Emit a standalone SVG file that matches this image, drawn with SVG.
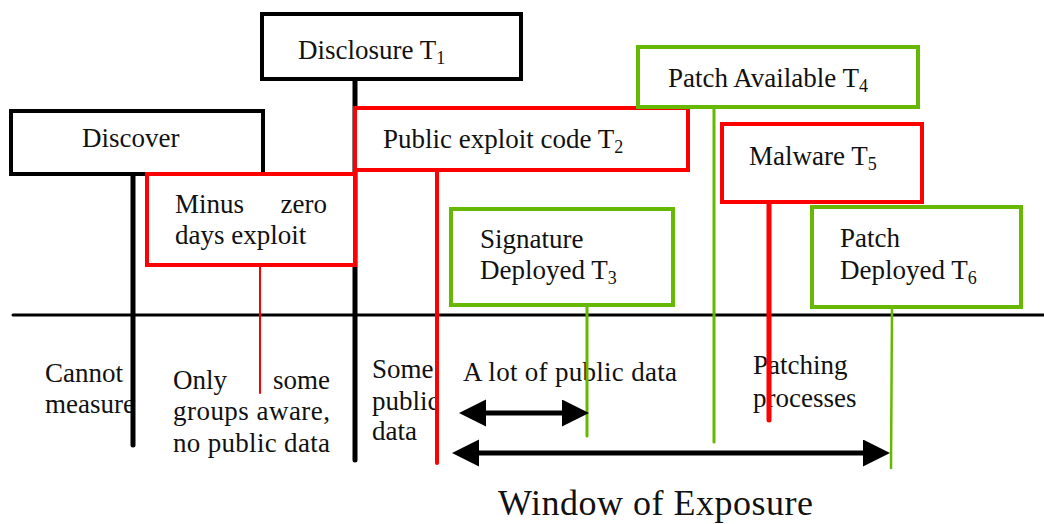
<svg xmlns="http://www.w3.org/2000/svg" width="1044" height="524" viewBox="0 0 1044 524">
<style>
text{font-family:'Liberation Serif','DejaVu Serif',serif;font-size:27px;fill:#111}
.sub{font-size:18px}
.box{fill:#fff;stroke-width:4}
.k{stroke:#000}
.r{stroke:#ff0000}
.g{stroke:#66b800}
.ln{fill:none;stroke-linecap:round}
.big{font-size:36px}
</style>
<defs>
<marker id="ah" markerUnits="userSpaceOnUse" markerWidth="28" markerHeight="28" refX="7" refY="13.5" orient="auto-start-reverse" viewBox="0 0 28 28">
<path d="M0,0 L27,13.5 L0,27 Z" fill="#000"/>
</marker>
</defs>
<rect width="1044" height="524" fill="#fff"/>

<g id="labels">
<text x="45" y="382">Cannot</text>
<text x="45" y="413">measure</text>
<text x="173" y="389">Only</text>
<text x="330" y="389" text-anchor="end">some</text>
<text x="173" y="420" textLength="157" lengthAdjust="spacing">groups aware,</text>
<text x="173" y="452" textLength="157" lengthAdjust="spacing">no public data</text>
<text x="372" y="378">Some</text>
<text x="372" y="410">public</text>
<text x="372" y="440">data</text>
<text x="463" y="381" textLength="214" lengthAdjust="spacing">A lot of public data</text>
<text x="753" y="374">Patching</text>
<text x="753" y="407">processes</text>
<text x="498" y="515" class="big" textLength="315" lengthAdjust="spacing">Window of Exposure</text>
</g>

<g id="connectors">
<line class="ln" x1="13" y1="315" x2="1044" y2="315" stroke="#000" stroke-width="3"/>
<line class="ln k" x1="133" y1="174" x2="133" y2="445" stroke-width="5"/>
<line class="ln k" x1="355" y1="79" x2="355" y2="460" stroke-width="5"/>
<line class="ln r" x1="260" y1="265" x2="260" y2="393" stroke-width="2"/>
<line class="ln r" x1="437" y1="170" x2="437" y2="463" stroke-width="4" stroke-linecap="butt"/>
<line class="ln g" x1="714" y1="107" x2="714" y2="442" stroke-width="3"/>
<line class="ln r" x1="769" y1="202" x2="769" y2="420" stroke-width="5"/>
<line class="ln g" x1="587" y1="305" x2="587" y2="436" stroke-width="3"/>
<line class="ln g" x1="892" y1="307" x2="891" y2="468" stroke-width="2.5"/>
<line x1="479" y1="413" x2="569" y2="413" stroke="#000" stroke-width="5" marker-start="url(#ah)" marker-end="url(#ah)"/>
<line x1="472" y1="453" x2="870" y2="453" stroke="#000" stroke-width="5" marker-start="url(#ah)" marker-end="url(#ah)"/>
</g>

<g id="discover">
<rect class="box k" x="11" y="111" width="252" height="63"/>
<text x="82" y="147">Discover</text>
</g>
<g id="disclosure">
<rect class="box k" x="262" y="14" width="259" height="65"/>
<text x="298" y="59">Disclosure T<tspan class="sub" dy="5">1</tspan></text>
</g>
<g id="minus-zero">
<rect class="box r" x="147" y="174" width="208" height="91"/>
<text x="175" y="213">Minus</text>
<text x="327" y="213" text-anchor="end">zero</text>
<text x="175" y="244">days exploit</text>
</g>
<g id="public-exploit">
<rect class="box r" x="355" y="108" width="333" height="62"/>
<text x="383" y="148">Public exploit code T<tspan class="sub" dy="5">2</tspan></text>
</g>
<g id="patch-available">
<rect class="box g" x="638" y="47" width="280" height="60"/>
<text x="668" y="87">Patch Available T<tspan class="sub" dy="5">4</tspan></text>
</g>
<g id="malware">
<rect class="box r" x="722" y="124" width="200" height="78" stroke-width="5"/>
<text x="749" y="165">Malware T<tspan class="sub" dy="5">5</tspan></text>
</g>
<g id="signature">
<rect class="box g" x="451" y="209" width="222" height="96"/>
<text x="480" y="248">Signature</text>
<text x="480" y="279">Deployed T<tspan class="sub" dy="5">3</tspan></text>
</g>
<g id="patch-deployed">
<rect class="box g" x="812" y="207" width="209" height="100"/>
<text x="840" y="247">Patch</text>
<text x="840" y="279">Deployed T<tspan class="sub" dy="5">6</tspan></text>
</g>
</svg>
